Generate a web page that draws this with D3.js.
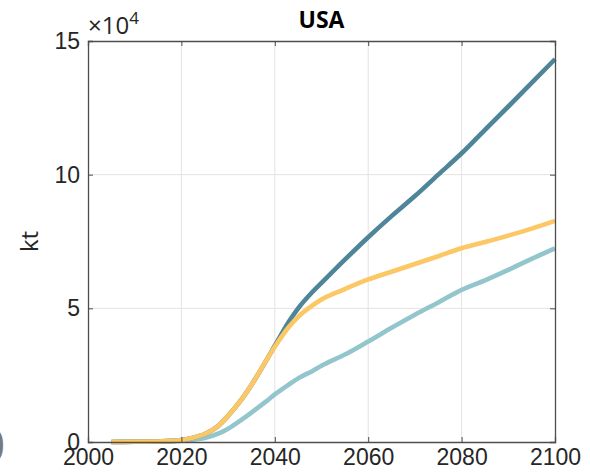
<!DOCTYPE html>
<html><head><meta charset="utf-8">
<script src="https://cdn.jsdelivr.net/npm/d3@7"></script>
<style>body{margin:0;background:#fff;} svg{display:block;font-family:"Open Sans","Noto Sans",sans-serif;}</style>
</head><body>
<svg id="c" width="590" height="472"></svg>
<script>
const title = "USA";
const yLabel = "kt";
const xTicks = [2000, 2020, 2040, 2060, 2080, 2100];
const yTicks = [0, 5, 10, 15];   // in units of 10^4 kt
const years = [2005,2010,2015,2020,2022,2025,2028,2030,2033,2035,2038,2040,2043,2045,2048,2050,2055,2060,2065,2070,2075,2080,2085,2090,2095,2100];
const seriesHigh = [0,0.01,0.02,0.07,0.14,0.3,0.62,0.98,1.62,2.13,3.0,3.6,4.5,5.0,5.6,5.95,6.82,7.66,8.45,9.2,10.0,10.8,11.68,12.55,13.43,14.32];
const seriesMid  = [0,0.01,0.02,0.07,0.14,0.3,0.62,0.98,1.62,2.13,3.0,3.56,4.3,4.68,5.1,5.33,5.72,6.08,6.37,6.66,6.95,7.25,7.48,7.72,7.98,8.27];
const seriesLow  = [0,0.01,0.02,0.05,0.08,0.15,0.32,0.5,0.85,1.1,1.5,1.78,2.15,2.38,2.65,2.85,3.27,3.76,4.27,4.76,5.22,5.69,6.05,6.44,6.85,7.24];
const seriesColors = ["#93c6cc", "#4f8598", "#fcc765"];

const svg = d3.select("#c");
const m = {l:88, r:555, t:41, b:442};
const x = d3.scaleLinear().domain([2000,2100]).range([m.l, m.r]);
const y = d3.scaleLinear().domain([0,15]).range([m.b, m.t]);

// grid
svg.append("g").selectAll("line").data(xTicks.slice(1,-1)).join("line")
  .attr("x1",d=>x(d)).attr("x2",d=>x(d)).attr("y1",m.t).attr("y2",m.b)
  .attr("stroke","#e3e3e3").attr("stroke-width",1);
svg.append("g").selectAll("line").data(yTicks.slice(1,-1)).join("line")
  .attr("y1",d=>y(d)).attr("y2",d=>y(d)).attr("x1",m.l).attr("x2",m.r)
  .attr("stroke","#e3e3e3").attr("stroke-width",1);

// lines
const line = d3.line().x((d,i)=>x(years[i])).y(d=>y(d)).curve(d3.curveMonotoneX);
[[seriesLow,0],[seriesHigh,1],[seriesMid,2]].forEach(([s,i])=>{
  svg.append("path").attr("d", line(s)).attr("fill","none")
    .attr("stroke", seriesColors[i]).attr("stroke-width",4.6).attr("stroke-linecap","butt");
});

// axes (box style, ticks inward)
const ax = svg.append("g").attr("transform",`translate(0,${m.b})`)
  .call(d3.axisBottom(x).tickValues(xTicks).tickSize(-5).tickPadding(6).tickFormat(d3.format("d")));
const ay = svg.append("g").attr("transform",`translate(${m.l},0)`)
  .call(d3.axisLeft(y).tickValues(yTicks).tickSize(-5).tickPadding(8).tickFormat(d3.format("d")));
const axT = svg.append("g").attr("transform",`translate(0,${m.t})`)
  .call(d3.axisTop(x).tickValues(xTicks).tickSize(-5).tickFormat(""));
const ayR = svg.append("g").attr("transform",`translate(${m.r},0)`)
  .call(d3.axisRight(y).tickValues(yTicks).tickSize(-5).tickFormat(""));
[ax,ay,axT,ayR].forEach(g=>{
  g.select(".domain").attr("stroke","#4d4d4d").attr("stroke-width",1.3);
  g.selectAll(".tick line").attr("stroke","#4d4d4d");
  g.selectAll(".tick text").attr("fill","#262626").attr("font-size",23);
});
ax.selectAll(".tick text").attr("dy","0.75em");

// exponent label
const ex = svg.append("text").attr("x",88).attr("y",34).attr("fill","#262626").attr("font-size",24);
ex.append("tspan").text("\u00d710");
ex.append("tspan").attr("dy",-10).attr("font-size",17).text("4");

// title
svg.append("text").attr("x",(m.l+m.r)/2).attr("y",28).attr("text-anchor","middle")
  .attr("font-weight","bold").attr("font-size",23).attr("fill","#000").text(title);

// y label
svg.append("text").attr("transform",`translate(38,${(m.t+m.b)/2}) rotate(-90)`)
  .attr("text-anchor","middle").attr("font-size",24).attr("fill","#262626").text(yLabel);

// clipped neighbour glyph at left edge
svg.append("text").attr("x",-21).attr("y",462).attr("font-size",46).attr("fill","#7a7a7a").text("0");
</script>
</body></html>
